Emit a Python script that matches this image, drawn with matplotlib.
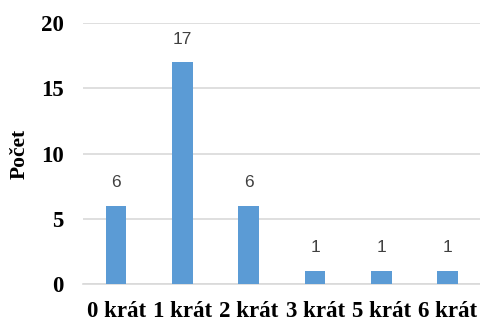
import matplotlib
matplotlib.use("Agg")
import matplotlib.pyplot as plt

categories = ["0 krát", "1 krát", "2 krát", "3 krát", "5 krát", "6 krát"]
counts = [6, 17, 6, 1, 1, 1]

serif = "Liberation Serif"
bar_color = "#5b9bd5"
grid_color = "#d9d9d9"

fig = plt.figure(figsize=(4.81, 3.23), dpi=100)
ax = fig.add_axes([0.1726, 0.1207, 0.827, 0.808])

x = range(len(categories))
bars = ax.bar(x, counts, width=0.31, color=bar_color, zorder=3)
for xi, v in zip(x, counts):
    ax.text(xi, v + 1.2, str(v), ha="center", va="bottom",
            fontsize=12.5, color="#404040", family="Liberation Sans")

ax.set_xlim(-0.5, len(categories) - 0.5)
ax.set_ylim(0, 20)
ax.set_yticks([0, 5, 10, 15, 20])
ax.set_xticks(list(x))
ax.set_xticklabels(categories)
for lab in ax.get_xticklabels() + ax.get_yticklabels():
    lab.set_family(serif)
    lab.set_fontweight("bold")
    lab.set_fontsize(16.5)
ax.tick_params(axis="both", length=0)
ax.tick_params(axis="y", pad=14)
ax.tick_params(axis="x", pad=12)

ax.yaxis.grid(True, color=grid_color, linewidth=1.2, zorder=0)
for s in ["top", "right", "left"]:
    ax.spines[s].set_visible(False)
ax.spines["bottom"].set_color(grid_color)
ax.spines["bottom"].set_linewidth(1.2)

ax.set_ylabel("Počet", family=serif, fontweight="bold", fontsize=15.5)
ax.yaxis.set_label_coords(-0.135, 0.5)

fig.savefig("out.png", dpi=100)
